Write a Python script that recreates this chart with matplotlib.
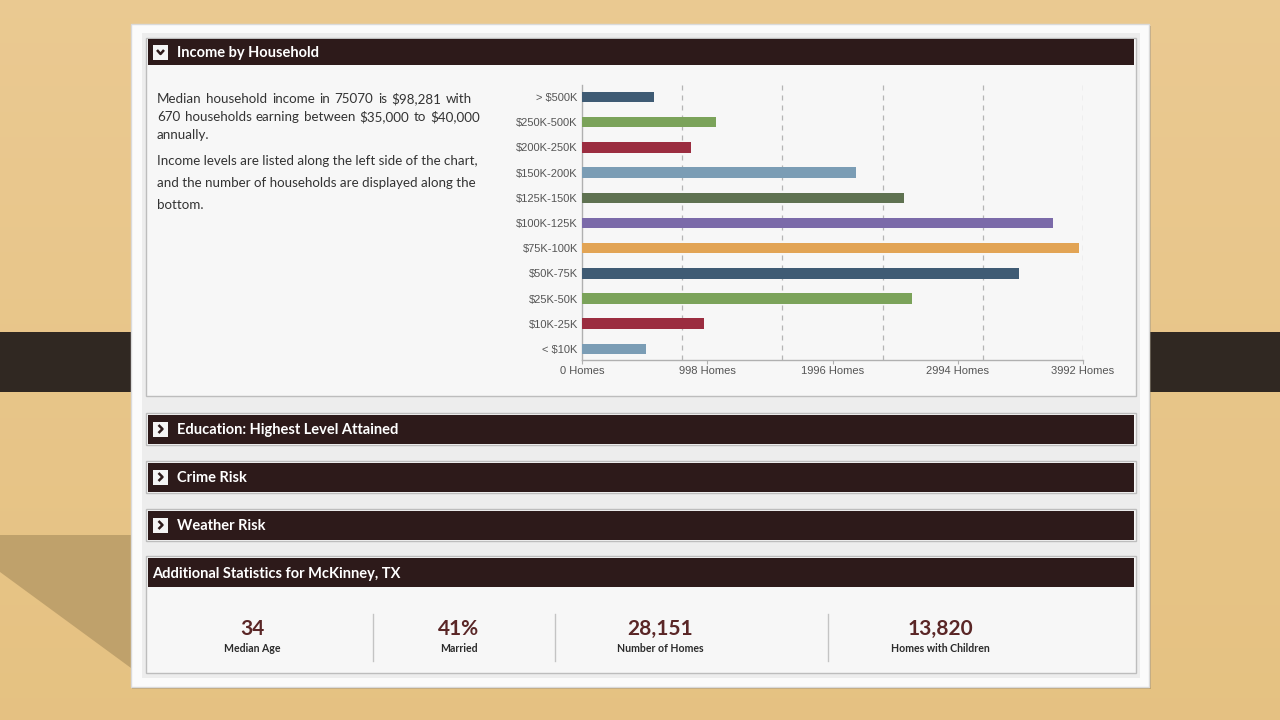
import matplotlib
matplotlib.use("Agg")
import matplotlib.pyplot as plt
from matplotlib.patches import Rectangle, Polygon
import numpy as np

# ---------------- data ----------------
categories = ["< $10K", "$10K-25K", "$25K-50K", "$50K-75K", "$75K-100K", "$100K-125K",
              "$125K-150K", "$150K-200K", "$200K-250K", "$250K-500K", "> $500K"]
homes = [510, 975, 2633, 3479, 3957, 3750, 2567, 2186, 868, 1070, 573]
bar_colors = ["#7b9db5", "#9b2d40", "#7ba35a", "#3f5b74", "#e2a455", "#7b6aa9",
              "#5f7251", "#7b9db5", "#9b2d40", "#7ba35a", "#3f5b74"]
tick_values = [0, 998, 1996, 2994, 3992]
tick_labels = ["0 Homes", "998 Homes", "1996 Homes", "2994 Homes", "3992 Homes"]

section_titles = ["Education: Highest Level Attained", "Crime Risk", "Weather Risk"]
stat_values = ["34", "41%", "28,151", "13,820"]
stat_labels = ["Median Age", "Married", "Number of Homes", "Homes with Children"]

para1 = ["Median household income in 75070 is $98,281 with",
         "670 households earning between $35,000 to $40,000",
         "annually."]
para2 = ["Income levels are listed along the left side of the chart,",
         "and the number of households are displayed along the",
         "bottom."]

W, H = 1280, 720
fig = plt.figure(figsize=(12.8, 7.2), dpi=100)

# ---------------- background (pixel coords) ----------------
bg = fig.add_axes([0, 0, 1, 1])
bg.set_xlim(0, W)
bg.set_ylim(H, 0)
bg.axis("off")

grad = np.linspace(0, 1, 200)[:, None]
c_top = np.array([0.92, 0.79, 0.57])
c_bot = np.array([0.90, 0.76, 0.51])
img = c_top[None, None, :] * (1 - grad[..., None]) + c_bot[None, None, :] * grad[..., None]
img = np.repeat(img, 2, axis=1)
bg.imshow(img, extent=[0, W, H, 0], aspect="auto", zorder=0)

# dark band
bg.add_patch(Rectangle((0, 332), W, 60, facecolor="#302822", edgecolor="none", zorder=1))
# diagonal shadow bottom-left
bg.add_patch(Polygon([(0, 535), (131, 535), (131, 668), (0, 572)], closed=True,
                     facecolor="#b39663", edgecolor="none", alpha=0.75, zorder=1))

def rect(x0, y0, x1, y1, fc, ec="none", lw=1.0, z=2, alpha=1.0):
    bg.add_patch(Rectangle((x0, y0), x1 - x0, y1 - y0, facecolor=fc, edgecolor=ec,
                           linewidth=lw, zorder=z, alpha=alpha))

# panel shadow + panel
rect(132, 26, 1151, 689, "#7a6a50", z=2, alpha=0.35)
rect(131, 24, 1149, 687, "#fbfbfb", ec="#dadada", z=3)
rect(142, 33, 1140, 678, "#ededed", z=3)

HEADER = "#2d1a1a"

def chevron(x, y, kind):
    rect(x, y - 7.5, x + 15, y + 7.5, "#f4f4f4", z=6)
    if kind == "down":
        bg.plot([x + 4, x + 7.5, x + 11], [y - 2, y + 2, y - 2], color=HEADER, lw=1.8, zorder=7,
                solid_capstyle="butt")
    else:
        bg.plot([x + 5.5, x + 9.5, x + 5.5], [y - 4, y, y + 4], color=HEADER, lw=1.8, zorder=7,
                solid_capstyle="butt")

hfont = dict(family=["Lato", "DejaVu Sans"], fontweight="bold", color="white", fontsize=10.5,
             va="center", ha="left", zorder=8, parse_math=False)

# Income box
rect(146, 38, 1136, 396, "#f7f7f7", ec="#bdbdbd", z=4)
rect(148, 39, 1134, 65, HEADER, z=5)
chevron(153, 52, "down")
bg.text(177, 53, "Income by Household", **hfont)

# collapsed sections
for i, t in enumerate(section_titles):
    yc = 429 + 48 * i
    rect(146, yc - 16, 1136, yc + 16, "#f7f7f7", ec="#bdbdbd", z=4)
    rect(148, yc - 14.5, 1134, yc + 14.5, HEADER, z=5)
    chevron(153, yc, "right")
    bg.text(177, yc + 1, t, **hfont)

# Additional statistics
rect(146, 556, 1136, 673, "#f7f7f7", ec="#bdbdbd", z=4)
rect(148, 558, 1134, 587, HEADER, z=5)
bg.text(152, 574, "Additional Statistics for McKinney, TX", **hfont)

stat_x = [252, 459, 660, 940]
for sx, v, l in zip(stat_x, stat_values, stat_labels):
    bg.text(sx, 629, v, family=["Lato", "DejaVu Sans"], fontweight="bold", fontsize=15,
            color="#5a2626", ha="center", va="center", zorder=8, parse_math=False)
    bg.text(sx, 648, l, family=["Lato", "DejaVu Sans"], fontweight="bold", fontsize=7.6,
            color="#2b2b2b", ha="center", va="center", zorder=8, parse_math=False)
for sep in [373, 555, 828]:
    bg.plot([sep, sep], [614, 661], color="#c4c4c4", lw=1.0, zorder=8)

# paragraph text
pfont = dict(family=["Lato", "DejaVu Sans"], fontsize=9.6, color="#333333", ha="left",
             va="center", zorder=8, parse_math=False)
renderer = fig.canvas.get_renderer()

def text_width(s):
    t = bg.text(0, 0, s, **pfont)
    bb = t.get_window_extent(renderer=renderer)
    t.remove()
    return bb.width

justify_ends = [472, 480]
for i, line in enumerate(para1):
    y = 99 + 18 * i
    if i < len(justify_ends):
        words = line.split(" ")
        widths = [text_width(w) for w in words]
        gap = (justify_ends[i] - 157 - sum(widths)) / (len(words) - 1)
        x = 157.0
        for w, wd in zip(words, widths):
            bg.text(x, y, w, **pfont)
            x += wd + gap
    else:
        bg.text(157, y, line, **pfont)
for i, line in enumerate(para2):
    bg.text(157, 161 + 22 * i, line, **pfont)

# ---------------- bar chart ----------------
ax = fig.add_axes([582 / W, 1 - 360 / H, (1083 - 582) / W, (360 - 85) / H])
ax.set_facecolor("none")
ypos = np.arange(len(categories))
ax.barh(ypos, homes, height=0.42, color=bar_colors, zorder=3)
ax.set_xlim(0, 3992)
ax.set_ylim(-0.437, 10.476)
for k in range(1, 6):
    ax.axvline(3992 * k / 5, color="#b5b5b5", lw=0.9, ls=(0, (4, 4)), zorder=1)
ax.set_xticks(tick_values)
ax.set_xticklabels(tick_labels)
ax.set_yticks(ypos)
ax.set_yticklabels(categories)
for s in ["top", "right"]:
    ax.spines[s].set_visible(False)
for s in ["left", "bottom"]:
    ax.spines[s].set_color("#b0b0b0")
    ax.spines[s].set_linewidth(1.0)
ax.tick_params(axis="x", length=3, color="#b0b0b0", labelsize=8, labelcolor="#555555", pad=1.5)
ax.tick_params(axis="y", length=0, labelsize=8, labelcolor="#555555", pad=3)
for lab in ax.get_xticklabels() + ax.get_yticklabels():
    lab.set_family(["Liberation Sans", "DejaVu Sans"])

fig.savefig("out.png", dpi=100)
